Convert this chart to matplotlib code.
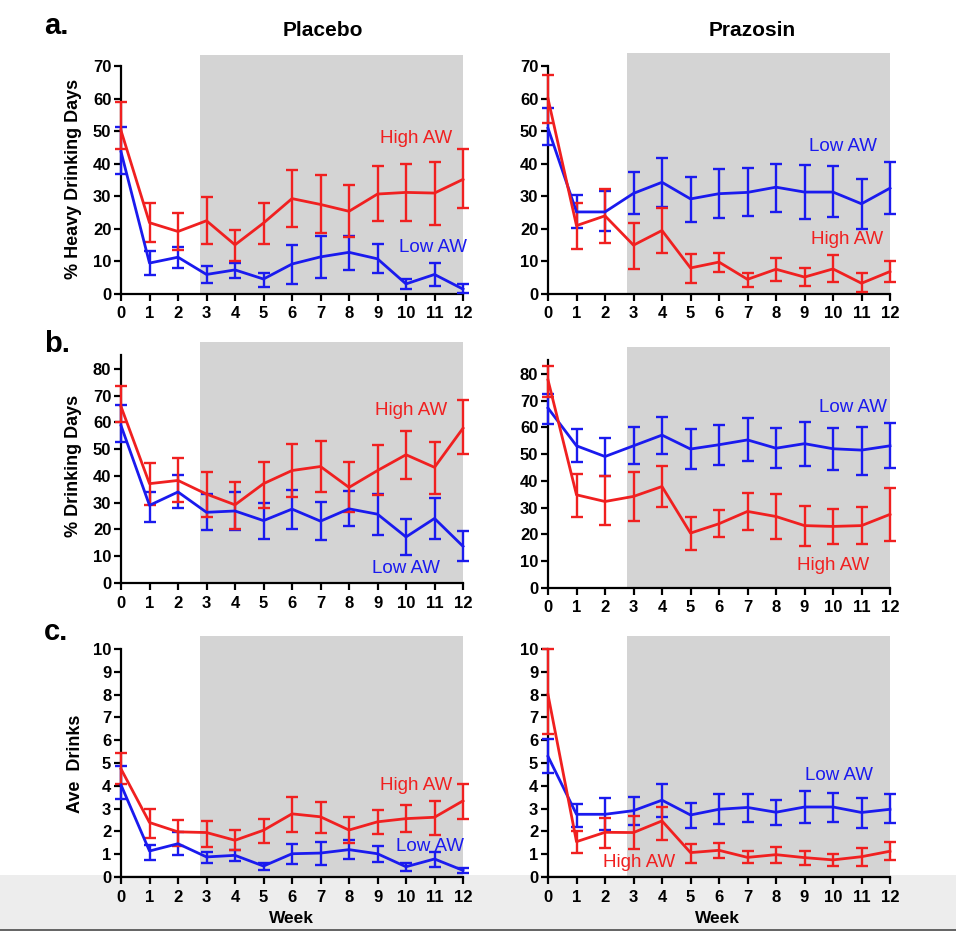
import numpy as np
import matplotlib
matplotlib.use('Agg')
import matplotlib.pyplot as plt
from matplotlib.patches import Rectangle

plt.rcParams['font.family'] = ['Liberation Sans', 'DejaVu Sans']

RED = '#f02020'
BLUE = '#1a1aee'
SHADE = '#d4d4d4'

weeks = list(range(13))

# ---- a. % heavy drinking days ----
a_plc_high     = [50.2, 21.9, 19.2, 22.5, 15.1, 21.8, 29.3, 27.5, 25.4, 30.7, 31.2, 31.0, 35.2]
a_plc_high_up  = [59.0, 27.8, 24.9, 29.9, 19.7, 28.0, 38.1, 36.5, 33.4, 39.2, 40.0, 40.6, 44.5]
a_plc_high_lo  = [44.5, 15.9, 13.4, 15.4, 10.2, 15.4, 20.5, 18.8, 17.6, 22.3, 22.4, 21.1, 26.4]
a_plc_low      = [43.7, 9.5, 11.3, 6.0, 7.4, 4.6, 9.2, 11.4, 12.8, 10.8, 3.1, 6.0, 1.5]
a_plc_low_up   = [51.4, 13.2, 14.4, 8.5, 9.6, 6.6, 15.0, 17.8, 17.8, 15.4, 4.6, 9.6, 3.1]
a_plc_low_lo   = [36.8, 5.7, 8.0, 3.5, 4.9, 2.3, 3.1, 4.9, 7.5, 6.3, 1.4, 2.5, 0.4]

a_prz_high     = [60.0, 21.0, 24.0, 15.0, 19.5, 8.0, 9.8, 4.5, 7.6, 5.2, 7.7, 3.3, 6.9]
a_prz_high_up  = [67.2, 27.8, 32.2, 21.9, 26.5, 12.2, 12.7, 6.6, 11.2, 8.1, 11.9, 6.3, 10.2]
a_prz_high_lo  = [52.4, 13.8, 15.8, 7.8, 12.7, 3.4, 6.7, 2.1, 4.1, 2.5, 3.7, 0.5, 3.7]
a_prz_low      = [50.9, 25.2, 25.2, 30.9, 34.3, 29.2, 30.8, 31.2, 32.8, 31.3, 31.3, 27.7, 32.5]
a_prz_low_up   = [57.0, 30.3, 31.7, 37.6, 41.7, 36.0, 38.4, 38.6, 39.9, 39.5, 39.2, 35.2, 40.5]
a_prz_low_lo   = [45.8, 20.3, 19.4, 24.5, 26.8, 22.2, 23.2, 24.0, 25.3, 23.0, 23.7, 20.1, 24.5]

# ---- b. % drinking days ----
b_plc_high     = [65.9, 37.1, 38.3, 33.2, 29.2, 37.1, 42.0, 43.5, 35.7, 42.0, 47.9, 43.2, 57.8]
b_plc_high_up  = [73.6, 44.8, 46.6, 41.4, 37.6, 45.3, 52.0, 53.2, 45.1, 51.5, 56.6, 52.5, 68.3]
b_plc_high_lo  = [60.0, 29.2, 30.1, 24.6, 20.1, 28.0, 32.0, 33.8, 26.4, 32.7, 38.9, 33.2, 48.3]
b_plc_low      = [58.8, 29.0, 34.0, 26.4, 26.9, 23.3, 27.6, 23.1, 27.7, 25.7, 17.2, 24.1, 13.7]
b_plc_low_up   = [66.5, 34.0, 40.2, 33.1, 34.0, 29.9, 34.6, 30.1, 34.3, 33.1, 23.9, 31.7, 19.4]
b_plc_low_lo   = [52.5, 22.8, 28.0, 19.7, 19.7, 16.4, 20.3, 16.0, 21.1, 18.0, 10.4, 16.5, 8.3]

b_prz_high     = [77.7, 34.8, 32.3, 34.2, 37.9, 20.5, 24.0, 28.6, 26.7, 23.3, 23.0, 23.3, 27.5]
b_prz_high_up  = [83.0, 42.5, 41.7, 43.5, 45.6, 26.7, 29.1, 35.6, 35.2, 30.6, 29.5, 30.1, 37.2]
b_prz_high_lo  = [71.5, 26.7, 23.4, 25.0, 30.1, 14.2, 19.0, 21.6, 18.4, 15.8, 16.3, 16.4, 17.7]
b_prz_low      = [67.2, 53.1, 49.1, 53.1, 57.1, 51.9, 53.5, 55.3, 52.2, 53.9, 52.0, 51.5, 53.1]
b_prz_low_up   = [72.5, 59.3, 56.0, 60.0, 64.0, 59.3, 60.8, 63.3, 59.6, 62.1, 59.6, 60.3, 61.6]
b_prz_low_lo   = [61.3, 46.9, 41.9, 46.3, 50.1, 44.4, 46.1, 47.6, 45.0, 45.4, 44.2, 42.2, 44.8]

# ---- c. average drinks ----
c_plc_high     = [4.74, 2.39, 1.98, 1.95, 1.61, 2.05, 2.77, 2.64, 2.06, 2.42, 2.56, 2.62, 3.34]
c_plc_high_up  = [5.43, 2.99, 2.50, 2.47, 2.05, 2.56, 3.51, 3.31, 2.61, 2.93, 3.15, 3.35, 4.10]
c_plc_high_lo  = [4.10, 1.73, 1.38, 1.32, 1.19, 1.48, 1.98, 1.92, 1.48, 1.89, 1.96, 1.84, 2.56]
c_plc_low      = [4.04, 1.14, 1.46, 0.88, 0.95, 0.48, 1.02, 1.05, 1.20, 1.02, 0.45, 0.79, 0.29]
c_plc_low_up   = [4.85, 1.39, 1.99, 1.11, 1.19, 0.63, 1.46, 1.52, 1.61, 1.35, 0.63, 1.11, 0.40]
c_plc_low_lo   = [3.43, 0.76, 0.95, 0.61, 0.69, 0.31, 0.56, 0.53, 0.78, 0.66, 0.26, 0.45, 0.19]

c_prz_high     = [8.0, 1.55, 1.96, 1.95, 2.46, 1.07, 1.17, 0.86, 0.98, 0.85, 0.75, 0.89, 1.13]
c_prz_high_up  = [10.0, 2.02, 2.59, 2.68, 3.09, 1.45, 1.51, 1.13, 1.32, 1.16, 1.01, 1.29, 1.55]
c_prz_high_lo  = [6.25, 1.04, 1.29, 1.22, 1.63, 0.63, 0.83, 0.61, 0.63, 0.54, 0.48, 0.48, 0.75]
c_prz_low      = [5.29, 2.75, 2.75, 2.91, 3.37, 2.72, 2.97, 3.05, 2.84, 3.07, 3.07, 2.83, 2.97]
c_prz_low_up   = [6.05, 3.22, 3.48, 3.53, 4.06, 3.24, 3.63, 3.66, 3.38, 3.75, 3.70, 3.48, 3.65]
c_prz_low_lo   = [4.55, 2.21, 2.06, 2.28, 2.65, 2.17, 2.31, 2.40, 2.30, 2.39, 2.42, 2.15, 2.36]

shade_start = 2.77


def px(x, y):
    # pixel (from top-left) -> figure fraction
    return x / 956., 1 - y / 931.


fig = plt.figure(figsize=(9.56, 9.31), dpi=100)

# light band at the bottom of the screenshot
fig.patches.append(Rectangle((0, 0), 1, 1 - 875 / 931., transform=fig.transFigure,
                             facecolor='#ededed', edgecolor='none', zorder=-10))
fig.patches.append(Rectangle((0, 0), 1, 2 / 931., transform=fig.transFigure,
                             facecolor='#666666', edgecolor='none', zorder=-9))


def panel(x0, y0px, ytoppx, ytop, spine_top, ticks, high, high_up, high_lo,
          low, low_up, low_lo, ylabel=None, ylab=None,
          hi_txt=None, lo_txt=None):
    left, bottom = px(x0, y0px)
    ax = fig.add_axes([left, bottom, 342 / 956., (y0px - ytoppx) / 931.])
    ax.set_facecolor('none')
    ax.set_xlim(0, 12)
    ax.set_ylim(0, ytop)
    ax.add_patch(Rectangle((shade_start, 0), 12 - shade_start, ytop,
                           facecolor=SHADE, edgecolor='none', zorder=0))
    for m, up, lo, col in [(low, low_up, low_lo, BLUE), (high, high_up, high_lo, RED)]:
        m = np.array(m)
        yerr = [m - np.array(lo), np.array(up) - m]
        ax.errorbar(weeks, m, yerr=yerr, color=col, lw=2.0, elinewidth=1.7,
                    capsize=4, capthick=1.7, clip_on=False, zorder=3)
    for s in ['top', 'right']:
        ax.spines[s].set_visible(False)
    for s in ['left', 'bottom']:
        ax.spines[s].set_linewidth(1.6)
    ax.spines['left'].set_bounds(0, spine_top)
    ax.set_xticks(weeks)
    ax.set_yticks(ticks)
    ax.tick_params(width=1.6, length=5, labelsize=12, pad=2)
    ax.tick_params(axis='x', pad=4)
    for lab in ax.get_xticklabels() + ax.get_yticklabels():
        lab.set_fontweight('bold')
    if ylabel:
        ax.set_ylabel(ylabel, fontsize=13, fontweight='bold')
        ax.yaxis.set_label_coords(*ylab)
    if hi_txt:
        ax.text(hi_txt[0], hi_txt[1], 'High AW', color=RED, fontsize=13.5,
                ha='center', va='center', zorder=4)
    if lo_txt:
        ax.text(lo_txt[0], lo_txt[1], 'Low AW', color=BLUE, fontsize=13.5,
                ha='center', va='center', zorder=4)
    return ax


# row a
panel(121, 294, 55, 73.4, 70, range(0, 71, 10),
      a_plc_high, a_plc_high_up, a_plc_high_lo, a_plc_low, a_plc_low_up, a_plc_low_lo,
      ylabel='% Heavy Drinking Days', ylab=(-0.114, 0.48),
      hi_txt=(10.35, 47.9), lo_txt=(10.95, 14.4))
panel(548, 294, 53, 74.0, 70, range(0, 71, 10),
      a_prz_high, a_prz_high_up, a_prz_high_lo, a_prz_low, a_prz_low_up, a_prz_low_lo,
      hi_txt=(10.48, 16.8), lo_txt=(10.36, 45.2))

# row b
panel(121, 583, 342, 90, 85, range(0, 81, 10),
      b_plc_high, b_plc_high_up, b_plc_high_lo, b_plc_low, b_plc_low_up, b_plc_low_lo,
      ylabel='% Drinking Days', ylab=(-0.114, 0.485),
      hi_txt=(10.19, 64.4), lo_txt=(10.0, 5.6))
panel(548, 588, 347, 90, 85, range(0, 81, 10),
      b_prz_high, b_prz_high_up, b_prz_high_lo, b_prz_low, b_prz_low_up, b_prz_low_lo,
      hi_txt=(9.99, 8.3), lo_txt=(10.7, 67.5))

# row c
panel(121, 877, 636, 10.57, 10, range(0, 11),
      c_plc_high, c_plc_high_up, c_plc_high_lo, c_plc_low, c_plc_low_up, c_plc_low_lo,
      ylabel='Ave  Drinks', ylab=(-0.108, 0.47),
      hi_txt=(10.35, 4.01), lo_txt=(10.83, 1.33))
panel(548, 877, 636, 10.57, 10, range(0, 11),
      c_prz_high, c_prz_high_up, c_prz_high_lo, c_prz_low, c_prz_low_up, c_prz_low_lo,
      hi_txt=(3.21, 0.64), lo_txt=(10.22, 4.44))

# titles, panel letters, week labels
fig.text(*px(323, 30), 'Placebo', fontsize=15, fontweight='bold', ha='center', va='center')
fig.text(*px(752, 30), 'Prazosin', fontsize=15, fontweight='bold', ha='center', va='center')
fig.text(*px(44, 34), 'a.', fontsize=21, fontweight='bold', ha='left', va='baseline')
fig.text(*px(44, 352), 'b.', fontsize=21, fontweight='bold', ha='left', va='baseline')
fig.text(*px(44, 640), 'c.', fontsize=21, fontweight='bold', ha='left', va='baseline')
fig.text(*px(291, 911), 'Week', fontsize=12.5, fontweight='bold', ha='center', va='top')
fig.text(*px(717, 911), 'Week', fontsize=12.5, fontweight='bold', ha='center', va='top')

fig.savefig('out.png', dpi=100)
